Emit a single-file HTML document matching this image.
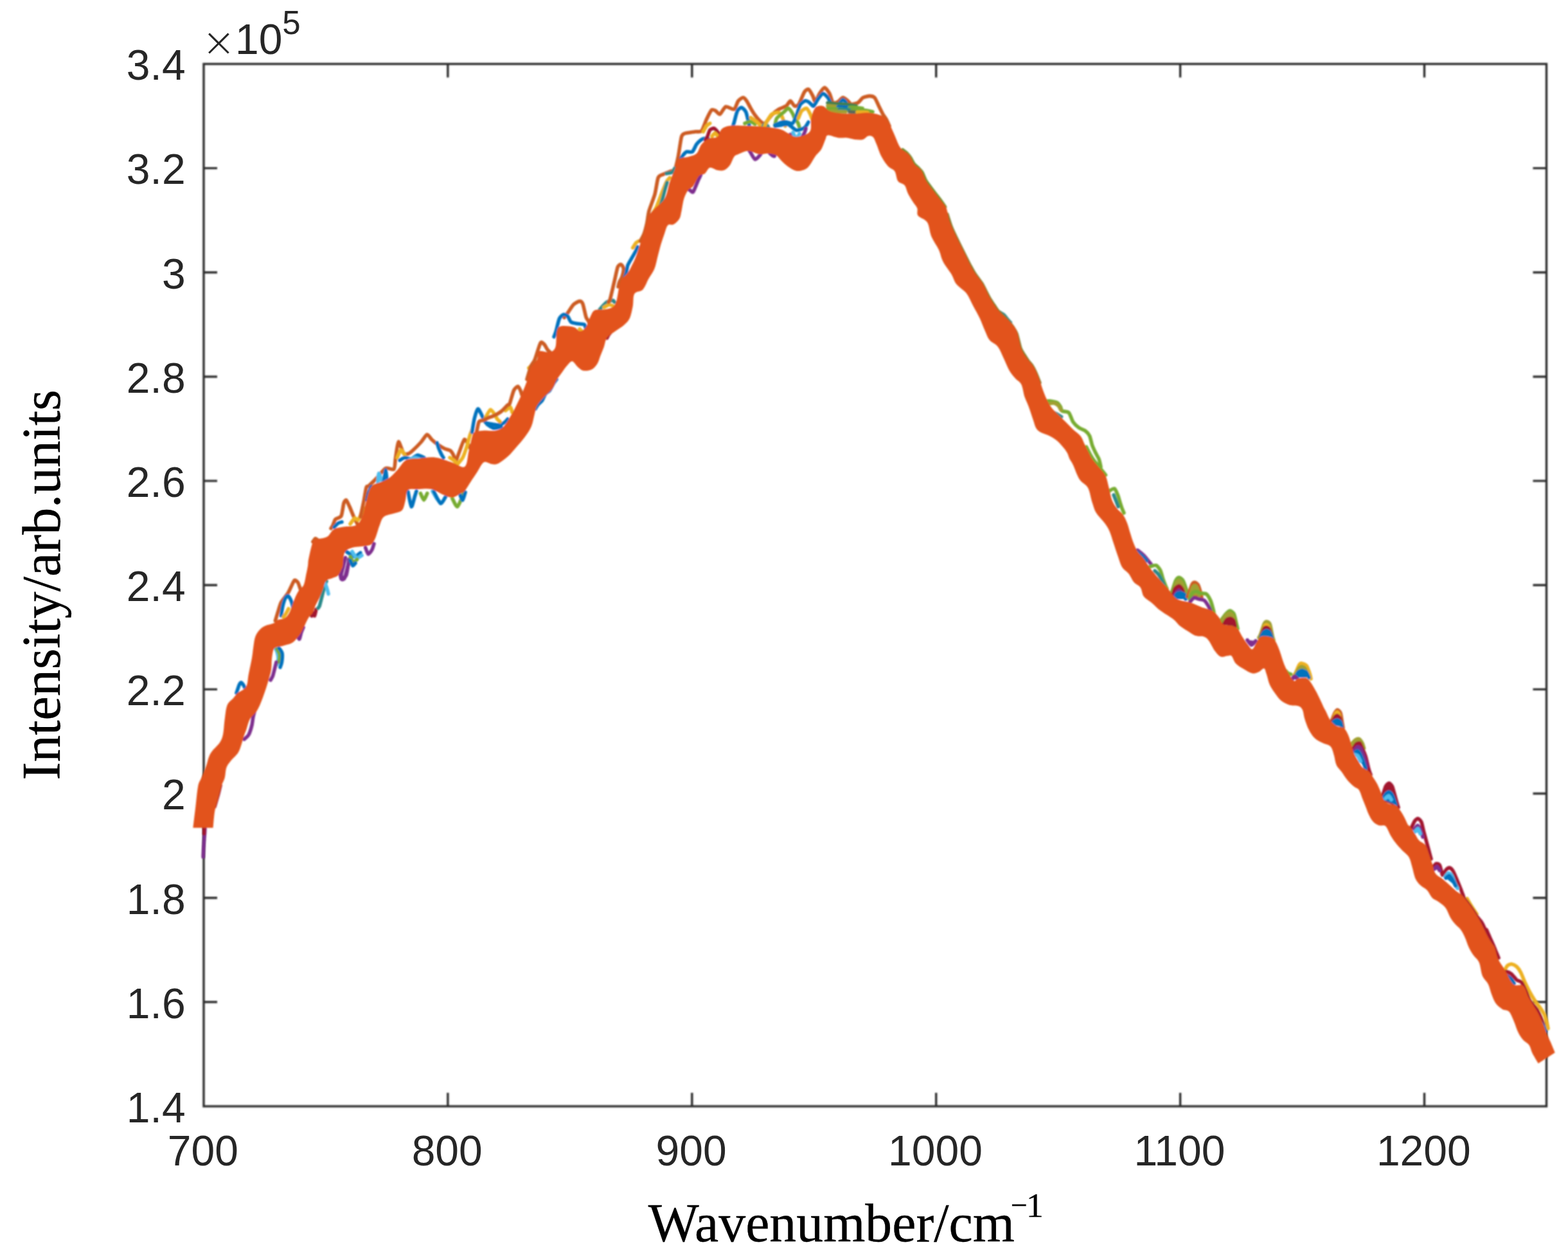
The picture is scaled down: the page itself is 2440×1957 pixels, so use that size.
<!DOCTYPE html>
<html lang="en">
<head>
<meta charset="utf-8">
<title>Raman spectra: Intensity vs Wavenumber</title>
<style>
html,body{margin:0;padding:0;background:#fff;}
body{width:2440px;height:1957px;overflow:hidden;}
svg{display:block;}
.tick{font-family:"Liberation Sans",sans-serif;font-size:66px;fill:#262626;}
.lab{font-family:"Liberation Serif",serif;font-size:83.8px;fill:#000;stroke:#000;stroke-width:0.35px;}
</style>
</head>
<body>
<svg width="2440" height="1957" viewBox="0 0 2440 1957">
<defs>
<filter id="soft" filterUnits="userSpaceOnUse" x="0" y="0" width="2440" height="1957"><feGaussianBlur stdDeviation="0.9"/></filter>
<filter id="softax" filterUnits="userSpaceOnUse" x="0" y="0" width="2440" height="1957"><feGaussianBlur stdDeviation="0.8"/></filter>
</defs>
<rect width="2440" height="1957" fill="#fff"/>

<g stroke="#2e2e2e" stroke-width="3.4" fill="none" filter="url(#softax)">
<rect x="317.0" y="99.5" width="2089.5" height="1621.5"/>
<path d="M696.9,1721.0 v-21 M696.9,99.5 v21"/>
<path d="M1076.8,1721.0 v-21 M1076.8,99.5 v21"/>
<path d="M1456.7,1721.0 v-21 M1456.7,99.5 v21"/>
<path d="M1836.6,1721.0 v-21 M1836.6,99.5 v21"/>
<path d="M2216.5,1721.0 v-21 M2216.5,99.5 v21"/>
<path d="M317.0,1558.8 h21 M2406.5,1558.8 h-21"/>
<path d="M317.0,1396.7 h21 M2406.5,1396.7 h-21"/>
<path d="M317.0,1234.5 h21 M2406.5,1234.5 h-21"/>
<path d="M317.0,1072.4 h21 M2406.5,1072.4 h-21"/>
<path d="M317.0,910.2 h21 M2406.5,910.2 h-21"/>
<path d="M317.0,748.1 h21 M2406.5,748.1 h-21"/>
<path d="M317.0,586.0 h21 M2406.5,586.0 h-21"/>
<path d="M317.0,423.8 h21 M2406.5,423.8 h-21"/>
<path d="M317.0,261.6 h21 M2406.5,261.6 h-21"/>
</g>
<g filter="url(#soft)">
<g fill="none" stroke-linejoin="round" stroke-linecap="round" stroke-width="5.6">
<path d="M319,1286 C319,1287 318.7,1292.8 318.6,1295 C318.5,1297.2 318,1302.1 317.8,1305 C317.6,1307.9 317,1316.7 316.8,1320 C316.6,1323.3 316.3,1331.5 316.2,1333" stroke="#7e2f8e"/>
<path d="M317.5,1286 C317.5,1286.7 317.8,1290.7 317.8,1292 C317.8,1293.3 317.6,1296.4 317.6,1297" stroke="#a2142f"/>
<path d="M334,1255 C334.4,1253.6 336.7,1245.7 337.5,1243 C338.3,1240.3 339.9,1234.5 340.5,1232 C341.1,1229.5 342.7,1223.2 343,1222" stroke="#a2142f"/>
<path d="M380,1150 C380.8,1149.2 385.6,1145.6 387,1143 C388.4,1140.4 391.2,1131.3 392,1128 C392.8,1124.7 393.3,1118.3 394,1115 C394.7,1111.7 397.5,1101.8 398,1100" stroke="#7e2f8e"/>
<path d="M368,1078 C368.5,1076.6 371.2,1067.9 372,1066 C372.8,1064.1 374.4,1061.8 375.2,1061.8 C376,1061.8 378.2,1064.8 379,1066 C379.8,1067.2 381.6,1071.3 382,1072" stroke="#0072bd"/>
<path d="M428.4,965.7 C428.9,964.2 431.2,956 432.3,952.7 C433.4,949.4 435.7,940.6 437.5,937.1 C439.3,933.6 446.1,925.8 447.9,922.9 C449.7,920 451.9,914.9 453.1,912.5 C454.3,910.1 457.1,903.5 458.3,902.7 C459.5,901.9 462.4,904.4 463.5,906 C464.6,907.6 466.6,914.2 467.4,916.4 C468.2,918.6 469.7,924 470,925" stroke="#cc5b22"/>
<path d="M437.5,957.9 C437.8,956.1 439.3,945.5 440.1,942.3 C440.9,939.1 443.1,932.4 444,930.6 C444.9,928.8 447,926.6 447.9,926.8 C448.8,927 451,930.5 451.8,931.9 C452.6,933.3 453.9,936.8 454.4,938.4 C454.9,940 455.8,945.1 456,946" stroke="#0072bd"/>
<path d="M441,960 C441.5,959.3 444.4,955.5 445.3,954 C446.2,952.5 448.6,947.8 449,947" stroke="#edb120"/>
<path d="M428,1008 C428.4,1008.7 430.4,1012.1 431,1014 C431.6,1015.9 433,1021.7 433,1024 C433,1026.3 431.2,1032.8 431,1034" stroke="#4dbeee"/>
<path d="M431,1010 C431.5,1010.9 434.6,1015.7 435,1018 C435.4,1020.3 434.1,1028.6 434,1030" stroke="#77ac30"/>
<path d="M434,1008 C434.6,1008.9 438.5,1013.4 439,1016 C439.5,1018.6 438.9,1027.4 438.5,1030 C438.1,1032.6 436.3,1037.1 436,1038" stroke="#0072bd"/>
<path d="M430,1030 C429.7,1031.2 428.1,1037.5 427.5,1040 C426.9,1042.5 425.3,1049.3 424.5,1051.4 C423.7,1053.5 421.4,1057.2 421,1058" stroke="#7e2f8e"/>
<path d="M463,990 C463.4,990.5 465.3,994.7 466,994 C466.7,993.3 468,986.1 468.7,984 C469.4,981.9 471.6,976.9 472,976" stroke="#7e2f8e"/>
<path d="M485,958 C485.2,957.4 486.5,953 487,953 C487.5,953 488.9,958.6 489.5,958 C490.1,957.4 491.7,949.2 492,948" stroke="#a2142f"/>
<path d="M495,946 C495.3,945.6 496.6,944.4 497.3,942.3 C498,940.2 500.1,931.5 501,928 C501.9,924.5 504.2,915.3 505,912.5 C505.8,909.7 507.6,905 508,904" stroke="#2a8a8a"/>
<path d="M526,890 C526.3,889.7 527.8,886.5 528.4,887.8 C529,889.1 530.1,899.4 531,900.8 C531.9,902.2 535,901.9 536.2,899.5 C537.4,897.1 540.5,883.2 541.4,880 C542.3,876.8 543.7,872.9 544,872" stroke="#7e2f8e"/>
<path d="M486.9,842.9 C487.4,842.3 489.7,837.9 490.8,837.7 C491.9,837.5 495.4,841.1 496,841.6" stroke="#cc5b22"/>
<path d="M515,822 C515.4,821.4 517.3,818.6 518.1,816.9 C518.9,815.2 520.4,809.5 521.9,807.8 C523.4,806.1 529.5,805.5 531,802.6 C532.5,799.7 534,786 534.9,783.1 C535.8,780.2 537.7,777.3 538.8,777.9 C539.9,778.5 542.6,785.3 544,788.3 C545.4,791.3 549.1,800.9 550.5,803.9 C551.9,806.9 554.8,812.7 555.7,814.3 C556.6,815.9 557.7,817.6 558,818" stroke="#cc5b22"/>
<path d="M545,815 C545.8,814 550.6,806.7 552,806 C553.4,805.3 555.8,809.7 557,809 C558.2,808.3 561,802.2 562,800 C563,797.8 565.5,791.2 566,790" stroke="#edb120"/>
<path d="M520,820 C520.7,819.3 524.6,814.9 526,814 C527.4,813.1 531.3,812.2 532,812" stroke="#0072bd"/>
<path d="M560.9,803.9 C561.5,801.1 564.9,785.3 566,780 C567.1,774.7 569.1,761.2 570,758.4 C570.9,755.6 572.1,757.4 573.9,755.8 C575.6,754.2 582,748.2 585,745 C588,741.8 596.6,730.4 599.9,728.6 C603.2,726.8 611.1,731.7 612.9,729.9 C614.7,728.1 614.7,718 615.5,713 C616.3,708 618.5,688.2 620,687.3 C621.5,686.4 626.2,702.8 628,705 C629.8,707.2 633.4,706.5 635,706 C636.6,705.5 639.7,703.1 642,701 C644.3,698.9 652.4,690.9 655,688 C657.6,685.1 662.6,676.5 664.6,676 C666.6,675.5 670,682.1 672,684 C674,685.9 679.7,690.4 682,692 C684.3,693.6 689.8,697 692,698 C694.2,699 699.2,699.8 700.8,701 C702.4,702.2 704.6,706 705.6,708 C706.6,710 708,718.4 709,718 C710,717.6 712.4,709 714,705 C715.6,701 720.7,685.8 722.3,684 C723.9,682.2 726.8,688.1 728,690 C729.2,691.9 732.4,698.8 733,700" stroke="#cc5b22"/>
<path d="M588,752 C588.2,750.2 588.7,736.7 589.5,736.4 C590.3,736.1 594.1,747.9 594.7,749.4" stroke="#4dbeee"/>
<path d="M597,752 C597.3,749.6 599.3,731.5 599.9,731.2 C600.5,730.9 602.2,747.3 602.5,749.4" stroke="#0072bd"/>
<path d="M571.3,777.9 C571.6,776.5 573.2,768.4 574,766 C574.8,763.6 577.4,758.1 577.8,757.1" stroke="#0072bd"/>
<path d="M537.5,867.5 C537.1,869.2 534.8,878.8 534,882 C533.2,885.2 531,892.7 531,894.8 C531,896.9 532.7,900 533.6,900 C534.5,900 537.9,896.9 538.8,894.8 C539.7,892.7 540.9,884.7 541.4,881.8 C541.9,878.9 542.8,871.4 543,870" stroke="#7e2f8e"/>
<path d="M538.8,858 C539.5,858.5 543.5,861.1 545,862 C546.5,862.9 550.1,866.2 552,866 C553.9,865.8 559.9,860.7 560.9,860" stroke="#0072bd"/>
<path d="M548,858 C548.8,859.2 553.2,867.3 555,868 C556.8,868.7 562.1,864.5 563,864" stroke="#4dbeee"/>
<path d="M545.3,866 C545.8,867 548.8,874.5 550,875 C551.2,875.5 555,870.6 555.7,870" stroke="#77ac30"/>
<path d="M545,872 C545.5,872.9 548.1,879.5 549,880 C549.9,880.5 552.5,876.5 553,876" stroke="#0072bd"/>
<path d="M568.7,852 C569.2,853.2 571.8,861.6 573,862 C574.2,862.4 578,856.9 579,855 C580,853.1 581.6,847 582,846" stroke="#7e2f8e"/>
<path d="M634.9,764.9 C635.5,767.6 638.9,787.4 640.1,788.3 C641.3,789.2 644.4,775.5 645.3,772.7 C646.2,769.9 647.7,765 648,764" stroke="#0072bd"/>
<path d="M654.4,767.5 C655,768.7 658.4,777.9 659.6,777.9 C660.8,777.9 664.2,768.7 664.8,767.5" stroke="#77ac30"/>
<path d="M673,764 C673.8,765.4 678.5,773.9 680,776 C681.5,778.1 685.3,781.3 686,782" stroke="#4dbeee"/>
<path d="M675.2,764.9 C676.4,767 683.5,782.2 685.6,783.1 C687.7,784 692.2,774.5 693.4,772.7 C694.6,770.9 695.7,768.5 696,768" stroke="#0072bd"/>
<path d="M703.8,775.3 C704.7,776.8 709.8,788.6 711.6,788.3 C713.4,788 718.2,775.5 719.4,772.7 C720.6,769.9 721.7,765 722,764" stroke="#77ac30"/>
<path d="M716,770 C716.5,770.9 719.1,778.5 720,778 C720.9,777.5 723.5,767.4 724,766" stroke="#0072bd"/>
<path d="M506,908 C506.4,908.9 508.4,914.1 509,916 C509.6,917.9 510.8,923.1 511,924" stroke="#4dbeee"/>
<path d="M618,712 C618.7,710.6 622.6,700.5 624,700 C625.4,699.5 629.3,707.1 630,708" stroke="#edb120"/>
<path d="M622,716 C622.9,715.5 627.9,712.2 630,712 C632.1,711.8 637.7,714.5 640,714 C642.3,713.5 647.7,708.2 650,708 C652.3,707.8 658.8,711.5 660,712" stroke="#0072bd"/>
<path d="M636,716 C637.2,715.5 643.7,712 646,712 C648.3,712 654.8,715.5 656,716" stroke="#4dbeee"/>
<path d="M700,712 C700.7,712.5 704.6,714.8 706,716 C707.4,717.2 711.3,721.3 712,722" stroke="#edb120"/>
<path d="M680,689 C680.4,690 682.2,696 683,698 C683.8,700 685.7,704.4 686.5,706 C687.3,707.6 689.6,711.3 690,712" stroke="#0072bd"/>
<path d="M712,722 C712.9,720.8 718.4,715 720,712 C721.6,709 724.7,700 726,696 C727.3,692 730,681.3 731,678 C732,674.7 734.5,669.2 735,668" stroke="#edb120"/>
<path d="M734.5,672.5 C735,669.9 737.3,654.6 738.4,650.4 C739.5,646.2 742.4,636.9 743.6,636.1 C744.8,635.3 747.4,641.5 748.8,643.9 C750.2,646.3 753.5,655.1 755.3,656.9 C757.1,658.7 762.1,659 764.4,659.5 C766.7,660 772.7,661.2 775,661 C777.3,660.8 782.2,659 784,658 C785.8,657 789.3,652.7 790,652" stroke="#0072bd"/>
<path d="M758,660 C759.2,660.7 765.4,665.5 768,666 C770.6,666.5 778.6,664.2 780,664" stroke="#0072bd"/>
<path d="M755.3,650.4 C756.2,648.9 761.3,637.9 763.1,637.4 C764.9,636.9 769.7,644.8 770.9,646.5 C772.1,648.2 772.7,650.6 773.5,651.7 C774.3,652.8 777.5,655.5 778,656" stroke="#edb120"/>
<path d="M786.5,638.7 C787.4,638.1 793.1,633.2 794.3,633.5 C795.5,633.8 796.6,640.4 796.9,641.3" stroke="#edb120"/>
<path d="M733,700 C733.6,698.8 736.6,695 738,690 C739.4,685 743.4,661.2 745,657 C746.6,652.8 750.2,654.8 752,654 C753.8,653.2 757.9,650.9 760,650 C762.1,649.1 767.7,647.2 770,646 C772.3,644.8 777.7,641.9 780,640 C782.3,638.1 788.5,631.4 790,630 C791.5,628.6 791.9,630.9 793,628.3 C794.1,625.7 798,610.7 799.5,607.5 C801,604.3 804.8,601 806,601 C807.2,601 809.2,606 809.9,607.5 C810.6,609 811.8,613.2 812,614" stroke="#cc5b22"/>
<path d="M822.9,572.5 C823.5,572 826.8,569.1 828,568 C829.2,566.9 832.6,563.9 833.2,563.4" stroke="#edb120"/>
<path d="M820,590 C820.7,587.7 824.6,573.5 826,570 C827.4,566.5 830.2,564.2 832,560 C833.8,555.8 839.3,536.5 841,533.6 C842.7,530.7 845.3,534.2 846.6,535.4 C847.9,536.6 850.9,542.5 852,544 C853.1,545.5 855.5,547.5 856,548" stroke="#cc5b22"/>
<path d="M833,636 C833.5,635.3 835.9,631.1 837.1,629.6 C838.3,628.1 842.2,625.1 843.6,623.1 C845,621.1 847.4,614.5 848.8,612.7 C850.2,610.9 853.8,609.5 855.3,607.5 C856.8,605.5 860.6,597.8 861.8,595.8 C863,593.8 865.5,590.7 866,590" stroke="#0072bd"/>
<path d="M878,494 C878.6,493.2 881.7,489.2 883.4,486.8 C885.1,484.4 890.4,475.9 892.5,473.8 C894.6,471.7 899.9,468.8 901.6,468.6 C903.3,468.4 905.6,469.6 906.8,472.5 C908,475.4 910.9,490 911.9,493.2 C912.9,496.4 915.1,498.3 915.8,499.7 C916.5,501.1 917.7,504.4 918,505" stroke="#cc5b22"/>
<path d="M862,524 C862.4,523 864.2,518.6 865.2,515.3 C866.2,512 869,498.8 870.4,495.8 C871.8,492.8 875.4,489.9 876.9,489.4 C878.4,488.9 882,490.5 883.4,491.9 C884.8,493.3 886.8,499.6 888.6,501 C890.4,502.4 896.6,503.1 899,503.6 C901.4,504.1 907.9,503.8 909.4,504.9 C910.9,506 911.5,511.2 911.9,512.7 C912.3,514.2 912.9,517.4 913,518" stroke="#0072bd"/>
<path d="M902,512 C902.4,512.4 904.7,514.4 905.5,515.3 C906.3,516.2 908.6,519.5 909,520" stroke="#edb120"/>
<path d="M933,482 C933.4,481.5 935.3,479.1 936.6,477.7 C937.9,476.3 942.4,471.1 944.4,469.9 C946.4,468.7 952.1,467.3 953.5,467.3 C954.9,467.3 955.8,469.6 956.1,469.9" stroke="#2a8a8a"/>
<path d="M940,478 C940.9,477.5 946.4,474.2 948,474 C949.6,473.8 953.3,475.8 954,476" stroke="#edb120"/>
<path d="M947,470 C947.3,469.4 948.5,468.5 949.6,464.7 C950.7,460.9 954.7,443.2 956.1,437.4 C957.5,431.6 960.1,418.3 961.3,415.3 C962.5,412.3 965.4,411.1 966.5,411.4 C967.6,411.7 970.2,415.6 970.4,417.9 C970.6,420.2 968.6,428.5 967.8,430.9 C967,433.3 964.6,436.9 963.9,438.7 C963.2,440.5 962.2,445.1 962,446" stroke="#cc5b22"/>
<path d="M972,432 C972.3,431.3 973.7,428 974.3,425.7 C974.9,423.4 975.8,415.6 976.9,412.7 C978,409.8 982,403.4 983.4,401 C984.8,398.6 987.6,393.9 988.6,391.9 C989.6,389.9 991.6,384.9 992,384" stroke="#0072bd"/>
<path d="M984.7,385.5 C985.3,384.6 988.8,378.9 989.9,377.7 C991,376.5 993.3,375.4 993.8,375.1" stroke="#edb120"/>
<path d="M996.4,375.1 C997.1,373.8 1000.9,367.3 1002.1,364 C1003.3,360.7 1005.9,350.7 1006.8,346.5 C1007.7,342.3 1008.5,333.5 1009.9,328.3 C1011.3,323.1 1017.3,308.4 1019,302.3 C1020.7,296.2 1022.7,280 1024.2,276.4 C1025.7,272.8 1029.8,272.3 1031.9,271.2 C1034,270.1 1039.9,267.9 1042,267 C1044.1,266.1 1048.5,266.1 1050.1,263.4 C1051.7,260.7 1054.1,249.8 1055.3,243.9 C1056.5,238 1059.3,216.9 1060.5,212.7 C1061.7,208.5 1063.3,208.4 1065.7,207.5 C1068.1,206.6 1078.3,205.4 1081.3,204.9 C1084.3,204.4 1089.6,205.9 1091.7,203.6 C1093.8,201.3 1097.7,189.3 1099.5,185.5 C1101.3,181.7 1105.6,172.7 1107.3,171.2 C1109,169.7 1112.3,171.7 1113.8,172.5 C1115.3,173.3 1118.5,178.5 1120.3,177.7 C1122.1,176.9 1126.8,166.9 1129.4,166 C1132,165.1 1140,171 1142.3,169.9 C1144.6,168.8 1147.1,159 1148.8,156.9 C1150.5,154.8 1155.1,151.7 1156.6,151.7 C1158.1,151.7 1160.4,154.9 1161.8,156.9 C1163.2,158.9 1166.8,166 1168.3,168.6 C1169.8,171.2 1173.1,176.7 1174.8,179 C1176.5,181.3 1180.8,186.6 1182.6,188.1 C1184.4,189.6 1188.3,193 1190.4,191.9 C1192.5,190.8 1198.3,181.6 1200.8,179 C1203.3,176.4 1209.4,171.6 1212,170 C1214.6,168.4 1221.3,166.4 1223.4,164.9 C1225.5,163.4 1228.4,157.1 1229.9,157.1 C1231.4,157.1 1234.9,164.3 1236.4,164.9 C1237.9,165.5 1241.1,164.9 1242.9,162.3 C1244.7,159.7 1250.1,145.6 1251.9,142.9 C1253.7,140.2 1256.9,138.2 1258.4,139 C1259.9,139.8 1263.7,147.1 1264.9,149.4 C1266.1,151.7 1267.6,158.9 1268.8,158.4 C1270,157.9 1273.6,148.1 1275.3,145.5 C1277,142.9 1281.3,136.4 1283.1,136.4 C1284.9,136.4 1289.4,142.8 1290.9,145.5 C1292.4,148.2 1294.6,158.2 1296.1,159.7 C1297.6,161.2 1302.1,159.3 1303.9,158.4 C1305.7,157.5 1309.9,152.1 1311.7,151.9 C1313.5,151.7 1318,155.9 1319.5,157.1 C1321,158.3 1322.9,162 1324.7,162.3 C1326.5,162.6 1333,160.9 1335.1,159.7 C1337.2,158.5 1340.8,153.1 1342.9,151.9 C1345,150.7 1351.1,149.4 1353.2,149.4 C1355.3,149.4 1359.3,150.1 1361,151.9 C1362.7,153.7 1366,161.9 1367.5,164.9 C1369,167.9 1372.6,175.5 1374,177.9 C1375.4,180.3 1378,183.6 1379.2,185.7 C1380.4,187.8 1383.4,194.8 1384,196" stroke="#cc5b22"/>
<path d="M944.4,525.7 C944.7,525.2 946.4,521.9 947,521 C947.6,520.1 949.3,518.3 949.6,517.9" stroke="#a2142f"/>
<path d="M1017,330 C1017.5,329 1020.1,325.3 1021.6,321.8 C1023.1,318.3 1028.2,304.5 1030,300 C1031.8,295.5 1035.7,285.7 1037.1,282.9 C1038.5,280.1 1041.7,277.2 1042.3,276.4" stroke="#edb120"/>
<path d="M1027,322 C1027.3,321.2 1028.5,318.4 1029.4,315.3 C1030.3,312.2 1033.5,299.5 1034.5,295.8 C1035.5,292.1 1037.6,285.4 1038,284" stroke="#2a8a8a"/>
<path d="M1037,270 C1038,269.8 1044.5,268.9 1046,268 C1047.5,267.1 1049.5,262.7 1050,262" stroke="#2a8a8a"/>
<path d="M1060,246 C1060.4,245.5 1062.1,242.5 1063.1,241.3 C1064.1,240.1 1066.6,236.7 1068.3,236.1 C1070,235.5 1075.6,237.5 1077.4,236.1 C1079.2,234.7 1082.4,226.5 1083.9,224.4 C1085.4,222.3 1088.9,219 1090.4,217.9 C1091.9,216.8 1095.5,215.5 1096.9,215.3 C1098.3,215.1 1101.4,215.9 1102,216" stroke="#0072bd"/>
<path d="M1094.3,204.9 C1094.9,203.8 1098.3,197.3 1099.5,195.8 C1100.7,194.3 1104.1,192.4 1104.7,191.9" stroke="#edb120"/>
<path d="M1098,218 C1098.3,217.4 1100,214.5 1100.8,212.7 C1101.6,210.9 1103.5,203.8 1104.7,202.3 C1105.9,200.8 1109.8,199.4 1111.2,199.7 C1112.6,200 1115.3,203.5 1116.4,204.9 C1117.5,206.3 1119.6,210.1 1120.3,211.4 C1121,212.7 1121.8,215.5 1122,216" stroke="#a2142f"/>
<path d="M1108,212 C1108.5,211.4 1111.5,207 1112.5,207 C1113.5,207 1116.5,211.4 1117,212" stroke="#edb120"/>
<path d="M1140,198 C1140.3,197.1 1141.4,193.6 1142.3,190.6 C1143.2,187.6 1146.1,175.2 1147.5,172.5 C1148.9,169.8 1152.5,167.1 1154,167.3 C1155.5,167.5 1159.3,171.4 1160.5,173.8 C1161.7,176.2 1163.8,185.5 1164.4,188.1 C1165,190.7 1165.8,195.1 1166,196" stroke="#0072bd"/>
<path d="M1159,192 C1159.9,191.7 1165.1,188.9 1167,189 C1168.9,189.1 1174.1,192.5 1175,193" stroke="#77ac30"/>
<path d="M1168.3,182.9 C1169.4,183.7 1175.7,188 1177.4,189.4 C1179.1,190.8 1181.6,193.5 1182.6,194.5 C1183.6,195.5 1185.6,197.6 1186,198" stroke="#edb120"/>
<path d="M1187.8,196 C1188.2,195.5 1190.1,191.8 1191,192 C1191.9,192.2 1195.1,197.3 1195.6,198" stroke="#2a8a8a"/>
<path d="M1190,196 C1190.3,195.2 1191.7,191.5 1193,189.4 C1194.3,187.3 1198.7,179.4 1200.8,177.7 C1202.9,176 1209.4,174.8 1211.2,175.1 C1213,175.4 1215.4,178.8 1216.4,180.3 C1217.4,181.8 1218.8,186.5 1219.5,188.3 C1220.2,190.1 1221.7,195.1 1222,196" stroke="#edb120"/>
<path d="M1206,196 C1206.3,194.6 1206.9,186.8 1208.6,184.2 C1210.3,181.6 1218.2,175.6 1220.3,173.8 C1222.4,172 1225.3,168.3 1226.8,168.6 C1228.3,168.9 1232,174.4 1233.2,176.4 C1234.4,178.4 1236.1,183.8 1237.1,185.5 C1238.1,187.2 1240.8,189.4 1241.6,190.9 C1242.4,192.4 1243.7,197.2 1244,198" stroke="#77ac30"/>
<path d="M1206,194.5 C1207.7,193.9 1217.1,189.7 1220.3,189.4 C1223.5,189.1 1230.9,193.1 1233.2,191.9 C1235.5,190.7 1238.3,182.3 1239.7,179 C1241.1,175.7 1243.4,166 1244.9,163.4 C1246.4,160.8 1251.2,157.5 1252.7,156.9 C1254.2,156.3 1256.9,157.8 1258,158.4 C1259.1,159 1261.3,161.5 1262.3,162.3 C1263.3,163.1 1265,165.8 1266.2,164.9 C1267.4,164 1271,156.8 1272.7,154.5 C1274.4,152.2 1278.7,145.8 1280.5,145.5 C1282.3,145.2 1286.8,149.9 1288.3,151.9 C1289.8,153.9 1292.6,160.2 1293.5,162.3 C1294.4,164.4 1295.7,169.1 1296,170" stroke="#0072bd"/>
<path d="M1206.5,196.1 C1208.8,195.8 1222.2,192.7 1226,193.5 C1229.8,194.3 1236,202 1239,202.6 C1242,203.2 1249.7,200.2 1251.9,198.7 C1254.1,197.2 1257.3,191 1258,190" stroke="#0072bd"/>
<path d="M1242.3,184.2 C1242.9,182.8 1246,174.3 1247.5,172.5 C1249,170.7 1253.7,168 1255.3,168.6 C1256.9,169.2 1260,175.9 1261,177.9 C1262,179.9 1263.7,185.1 1264,186" stroke="#edb120"/>
<path d="M1229.9,209.1 C1230.4,209.7 1232.9,212.5 1234,214 C1235.1,215.5 1237.7,221.8 1239,222.1 C1240.3,222.4 1244,218.7 1245.5,216.9 C1247,215.1 1250.9,208.5 1251.9,206.5 C1252.9,204.5 1253.8,200.8 1254,200" stroke="#7e2f8e"/>
<path d="M1234,206 C1234.6,207.2 1237.8,215.8 1239,216 C1240.2,216.2 1243.4,208.9 1244,208" stroke="#4dbeee"/>
<path d="M1070,294 C1070.4,294.2 1072.5,295.3 1073.5,295.8 C1074.5,296.3 1077.2,300.2 1078.7,298.4 C1080.2,296.6 1085.3,283 1086.5,280.3 C1087.7,277.6 1088.6,276.3 1089.1,275.1 C1089.6,273.9 1090.8,270.6 1091,270" stroke="#7e2f8e"/>
<path d="M1162,230 C1162.4,230.4 1164.2,231.4 1165.7,233.5 C1167.2,235.6 1172.8,246.9 1174.8,247.8 C1176.8,248.7 1181.3,242.7 1182.6,241.3 C1183.9,239.9 1185.6,236.6 1186,236" stroke="#7e2f8e"/>
<path d="M1196,236 C1196.3,236.3 1197.3,237.9 1198.2,238.7 C1199.1,239.5 1202.3,242.6 1203.4,242.6 C1204.5,242.6 1206.5,239.5 1207.3,238.7 C1208.1,237.9 1209.7,236.3 1210,236" stroke="#7e2f8e"/>
<path d="M1200,235 C1200.3,235.6 1202.4,239.1 1203,240 C1203.6,240.9 1204.8,242.7 1205,243" stroke="#7e2f8e"/>
<path d="M1307,160 C1307.5,159.4 1310.6,155 1311.7,155 C1312.8,155 1316.5,158.7 1316.5,160 C1316.5,161.3 1313.1,166 1312,166 C1310.9,166 1307.6,160.7 1307,160" stroke="#0072bd"/>
<path d="M1288,160 C1289.4,160.2 1297.2,161.3 1300,161.5 C1302.8,161.7 1309.4,161.8 1312,162 C1314.6,162.2 1319.7,162.7 1322,163 C1324.3,163.3 1330.8,164.3 1332,164.5" stroke="#3f7f4f"/>
<path d="M1288,164.5 C1289.4,164.6 1298.1,165.3 1300,165.5 C1301.9,165.7 1303.5,165.9 1304,166" stroke="#a0a030"/>
<path d="M1304,166 C1304.9,166.1 1309.9,166.4 1312,166.5 C1314.1,166.6 1320.8,166.9 1322,167" stroke="#0072bd"/>
<path d="M1322,167 C1323.4,167.1 1331.7,167.3 1334,167.5 C1336.3,167.7 1341.1,168.4 1342,168.5" stroke="#77ac30"/>
<path d="M1288,169 C1289.4,169.1 1297.4,169.4 1300,169.5 C1302.6,169.6 1308.8,169.9 1310,170" stroke="#77ac30"/>
<path d="M1306,170 C1307.4,170.1 1315.4,170.4 1318,170.5 C1320.6,170.6 1326.8,170.9 1328,171" stroke="#2a8a8a"/>
<path d="M1326,171 C1327.4,171 1335.3,170.9 1338,171 C1340.7,171.1 1346.7,171.7 1349,172 C1351.3,172.3 1357,173.8 1358,174" stroke="#77ac30"/>
<path d="M1288,173 C1289.6,173.1 1298.7,173.4 1302,173.5 C1305.3,173.6 1314.4,173.9 1316,174" stroke="#a0a030"/>
<path d="M1322,174 C1322.9,174.1 1329.1,174.4 1330,174.5" stroke="#5a6a5a"/>
<path d="M1334,174.5 C1335.2,174.5 1342.1,174.4 1344,174.5 C1345.9,174.6 1349.3,174.9 1350,175" stroke="#edb120"/>
<path d="M1556,486 C1556.7,486.5 1560.9,488.7 1562.3,490 C1563.7,491.3 1566.8,495.6 1568,497 C1569.2,498.4 1571.8,501.2 1572.3,501.7" stroke="#2a8a8a"/>
<path d="M1628,624 C1628.6,624 1631.4,623.5 1633.4,623.8 C1635.4,624.1 1643.1,625.3 1645.1,626.4 C1647.1,627.5 1649.4,631.4 1650.3,632.9 C1651.2,634.4 1651.4,638.4 1652.9,639.4 C1654.4,640.4 1661.2,639.9 1663.2,641.9 C1665.2,643.9 1667.9,653.5 1669.7,656.2 C1671.5,658.9 1676.5,663.6 1678.8,665.3 C1681.1,667 1687.2,669 1689.2,670.5 C1691.2,672 1694.5,675.7 1695.7,678.3 C1696.9,680.9 1698.5,689.6 1699.6,692.6 C1700.7,695.6 1703.6,701.8 1704.8,704.3 C1706,706.8 1709,711.5 1710,714 C1711,716.5 1712.7,724.6 1713,726" stroke="#77ac30"/>
<path d="M1632,628 C1632.9,627.9 1638.2,626.6 1640,627 C1641.8,627.4 1645.7,629.7 1647,631 C1648.3,632.3 1650.5,637.2 1651,638" stroke="#a0a030"/>
<path d="M1640,642 C1640.7,642.4 1644.6,644.3 1646,645 C1647.4,645.7 1650.9,648 1651.6,648.4" stroke="#2a8a8a"/>
<path d="M1724,766 C1724.5,765.6 1726.7,763.4 1727.9,762.7 C1729.1,762 1733,759.2 1734.4,760.1 C1735.8,761 1738.5,767.8 1739.6,770.5 C1740.7,773.2 1742.7,781.1 1743.5,783.5 C1744.3,785.9 1745.5,789.6 1746.1,791.3 C1746.7,793 1748.7,797.2 1749,798" stroke="#77ac30"/>
<path d="M1733,770 C1733.5,771.2 1736.2,777.9 1737,780 C1737.8,782.1 1739.7,787.1 1740,788" stroke="#2a8a8a"/>
<path d="M1770,856 C1770.2,856.2 1770.9,856.6 1772.1,857.5 C1773.3,858.4 1778.2,862.3 1779.9,864 C1781.6,865.7 1785,870.1 1786.4,871.8 C1787.8,873.5 1791,877.5 1791.6,878.3" stroke="#7e2f8e"/>
<path d="M1768,858 C1768.9,858.7 1774.1,862.4 1776,864 C1777.9,865.6 1783.1,871.1 1784,872" stroke="#0072bd"/>
<path d="M1789,882 C1789.3,881.9 1790.4,881.2 1791.6,880.9 C1792.8,880.6 1797.7,878.8 1799.4,879.6 C1801.1,880.4 1804.6,885 1805.8,887.4 C1807,889.8 1808.8,897.7 1809.7,900.4 C1810.6,903.1 1812.9,909 1813.6,910.8 C1814.3,912.6 1815.7,915.4 1816,916" stroke="#77ac30"/>
<path d="M1797,888 C1797.7,888.7 1801.7,892.2 1803,894 C1804.3,895.8 1807.1,901.1 1808,903 C1808.9,904.9 1810.7,909.2 1811,910" stroke="#2a8a8a"/>
<path d="M1821,924 C1821.4,923.4 1823.2,921.4 1824.2,919 C1825.2,916.6 1828.2,905.8 1829.4,903.4 C1830.6,901 1833.1,898.2 1834.5,898.2 C1835.9,898.2 1839.5,900.7 1841,903.4 C1842.5,906.1 1846.6,918.7 1847.5,921.6 C1848.4,924.5 1848.8,927.3 1849,928" stroke="#77ac30" fill="#77ac30"/>
<path d="M1826,920 C1826.5,918.6 1829,910 1830,908 C1831,906 1833.4,903 1834.5,903 C1835.6,903 1838.4,906 1839.5,908 C1840.6,910 1843.5,918.6 1844,920" stroke="#a0a030" fill="#a0a030"/>
<path d="M1826,924 C1826.2,923.1 1827,917.9 1828,916.4 C1829,914.9 1833.1,911.2 1834.5,911.2 C1835.9,911.2 1838.8,914.9 1839.7,916.4 C1840.6,917.9 1841.7,923.1 1842,924" stroke="#a2142f" fill="#a2142f"/>
<path d="M1828,926 C1828.8,925.1 1833,918 1834.5,918 C1836,918 1840.2,925.1 1841,926" stroke="#7e2f8e" fill="#7e2f8e"/>
<path d="M1828,932 C1828.3,931.1 1830,925.2 1831,924 C1832,922.8 1835.6,921.9 1837,922 C1838.4,922.1 1842.1,923.8 1843,925 C1843.9,926.2 1844.8,931.2 1845,932" stroke="#0072bd" fill="#0072bd"/>
<path d="M1848,928 C1848.2,927.4 1849.2,925.2 1850.1,922.9 C1851,920.6 1854.2,910.6 1855.3,908.6 C1856.4,906.6 1858.1,905.8 1859.2,906 C1860.3,906.2 1863.3,908.1 1864.4,909.9 C1865.5,911.7 1867.6,919.3 1868.3,921.6 C1869,923.9 1869.8,929 1870,930" stroke="#cc5b22" fill="#cc5b22"/>
<path d="M1852,926 C1852.5,924.6 1855.1,915.8 1856,914 C1856.9,912.2 1858.7,910.9 1859.5,911 C1860.3,911.1 1862.2,913.2 1863,915 C1863.8,916.8 1865.7,924.7 1866,926" stroke="#a0a030" fill="#a0a030"/>
<path d="M1851,932 C1851.6,930.8 1854.7,923.4 1856,922 C1857.3,920.6 1860.6,919.9 1862,920 C1863.4,920.1 1866.5,922.4 1868.3,922.9 C1870.1,923.4 1875.6,922.8 1877.4,924.2 C1879.2,925.6 1882.7,931.8 1883.9,934.5 C1885.1,937.2 1887.2,945.3 1887.8,947.5 C1888.4,949.7 1888.9,952.4 1889,953" stroke="#77ac30"/>
<path d="M1852,936 C1852.7,935.3 1856.4,930.5 1858,930 C1859.6,929.5 1864.1,931.5 1866,932 C1867.9,932.5 1872.4,932.8 1874,934 C1875.6,935.2 1878.8,940.1 1880,942 C1881.2,943.9 1883.5,949.1 1884,950" stroke="#7e2f8e"/>
<path d="M1896,968 C1896.4,967.7 1898.2,967.2 1899.5,965.7 C1900.8,964.2 1905.6,957.1 1907.3,955.3 C1909,953.5 1912.3,950.1 1913.8,950.1 C1915.3,950.1 1919.1,952.9 1920.3,955.3 C1921.5,957.7 1923.5,968.3 1924.2,970.9 C1924.9,973.5 1925.8,977.2 1926,978" stroke="#77ac30" fill="#77ac30"/>
<path d="M1903,964 C1903.7,963.1 1907.7,957.2 1909,956 C1910.3,954.8 1912.9,953.8 1914,954 C1915.1,954.2 1917.7,956.4 1918.5,958 C1919.3,959.6 1920.7,966.8 1921,968" stroke="#a0a030" fill="#a0a030"/>
<path d="M1904,972 C1904.6,971.1 1907.7,965.2 1909,964 C1910.3,962.8 1913.7,961.8 1915,962 C1916.3,962.2 1919.2,964.6 1920,966 C1920.8,967.4 1921.8,973.1 1922,974" stroke="#a2142f" fill="#a2142f"/>
<path d="M1959,992 C1959.3,991.4 1960.9,989 1961.8,986.5 C1962.7,984 1965.9,973.2 1967,970.9 C1968.1,968.6 1969.8,967 1970.9,967 C1972,967 1975,968.3 1976.1,970.9 C1977.2,973.5 1979.3,986.2 1980,989.1 C1980.7,992 1981.8,995.2 1982,996" stroke="#a0a030" fill="#a0a030"/>
<path d="M1964,984 C1964.5,982.8 1967.2,975.4 1968,974 C1968.8,972.6 1970.3,971.9 1971,972 C1971.7,972.1 1973.3,973.6 1974,975 C1974.7,976.4 1976.7,983 1977,984" stroke="#edb120" fill="#edb120"/>
<path d="M1963,988 C1963.5,986.8 1966.1,979.4 1967,978 C1967.9,976.6 1970.1,975.9 1971,976 C1971.9,976.1 1974.2,977.6 1975,979 C1975.8,980.4 1977.7,987 1978,988" stroke="#a2142f" fill="#a2142f"/>
<path d="M1962,992 C1962.5,991.1 1965,985.3 1966,984 C1967,982.7 1969.8,981 1971,981 C1972.2,981 1975.1,982.7 1976,984 C1976.9,985.3 1978.7,991.1 1979,992" stroke="#0072bd" fill="#0072bd"/>
<path d="M1941,995.6 C1941.8,996.5 1946,1003.2 1947.5,1003.4 C1949,1003.6 1953.2,997.7 1954,996.9" stroke="#7e2f8e" fill="#7e2f8e"/>
<path d="M2013,1052 C2013.4,1051.3 2015.4,1048.2 2016.4,1046.2 C2017.4,1044.2 2020.5,1036.2 2021.6,1034.5 C2022.7,1032.8 2024.1,1031.7 2025.5,1031.9 C2026.9,1032.1 2031.7,1033.8 2033.2,1035.8 C2034.7,1037.8 2037.6,1046.4 2038.4,1048.8 C2039.2,1051.2 2039.8,1055.2 2040,1056" stroke="#edb120" fill="#edb120"/>
<path d="M2017,1048 C2017.6,1047 2021,1040.3 2022,1039 C2023,1037.7 2025,1036.9 2026,1037 C2027,1037.1 2030,1038.5 2031,1040 C2032,1041.5 2034.5,1048.8 2035,1050" stroke="#a0a030" fill="#a0a030"/>
<path d="M2016,1054 C2016.5,1053.1 2018.8,1047.3 2020,1046 C2021.2,1044.7 2024.5,1043 2026,1043 C2027.5,1043 2031.7,1044.7 2033,1046 C2034.3,1047.3 2036.5,1053.1 2037,1054" stroke="#0072bd" fill="#0072bd"/>
<path d="M2010,1058 C2010.5,1057.3 2013,1052.2 2014,1052 C2015,1051.8 2018.4,1055.5 2019,1056" stroke="#7e2f8e" fill="#7e2f8e"/>
<path d="M2000.8,1043.6 C2001.2,1044 2003.1,1046.4 2004,1047 C2004.9,1047.6 2008.1,1048.6 2008.6,1048.8" stroke="#77ac30" fill="#77ac30"/>
<path d="M2069,1126 C2069.3,1125.6 2070.9,1124.2 2071.8,1122.3 C2072.7,1120.4 2075.9,1111.5 2077,1109.4 C2078.1,1107.3 2079.8,1104.2 2080.9,1104.2 C2082,1104.2 2085.2,1107 2086.1,1109.4 C2087,1111.8 2088.2,1122.3 2088.7,1124.9 C2089.2,1127.5 2089.8,1131.2 2090,1132" stroke="#cc5b22" fill="#cc5b22"/>
<path d="M2075,1118 C2075.4,1117.1 2077.8,1111.2 2078.5,1110 C2079.2,1108.8 2080.4,1107.8 2081,1108 C2081.6,1108.2 2083.4,1110.6 2084,1112 C2084.6,1113.4 2085.8,1119.1 2086,1120" stroke="#edb120" fill="#edb120"/>
<path d="M2073,1124 C2073.5,1123.1 2076.1,1117.3 2077,1116 C2077.9,1114.7 2080.1,1112.9 2081,1113 C2081.9,1113.1 2084.3,1115.5 2085,1117 C2085.7,1118.5 2086.8,1125 2087,1126" stroke="#a2142f" fill="#a2142f"/>
<path d="M2072,1128 C2072.5,1127.3 2074.9,1122.9 2076,1122 C2077.1,1121.1 2079.8,1119.9 2081,1120 C2082.2,1120.1 2085.2,1121.8 2086,1123 C2086.8,1124.2 2087.8,1129.2 2088,1130" stroke="#0072bd" fill="#0072bd"/>
<path d="M2101,1160 C2101.4,1159.5 2103.3,1157.2 2104.3,1156.1 C2105.3,1155 2108.3,1151.7 2109.5,1150.9 C2110.7,1150.1 2113.5,1149 2114.7,1149.6 C2115.9,1150.2 2119,1154.4 2119.9,1156.1 C2120.8,1157.8 2122.2,1163 2122.5,1163.9" stroke="#a0a030" fill="#a0a030"/>
<path d="M2106,1164 C2106.6,1163.2 2109.8,1157.9 2111,1157 C2112.2,1156.1 2115,1155.2 2116,1156 C2117,1156.8 2118.8,1161.5 2119.9,1163.9 C2121,1166.3 2123.9,1173 2125.1,1176.9 C2126.3,1180.8 2129.4,1194.4 2130.3,1197.7 C2131.2,1201 2132.7,1204.1 2133,1205" stroke="#a2142f" fill="#a2142f"/>
<path d="M2107,1168 C2107.6,1167.3 2110.8,1162.5 2112,1162 C2113.2,1161.5 2115.8,1162.4 2117,1164 C2118.2,1165.6 2120.8,1172.7 2122,1176 C2123.2,1179.3 2126.4,1190.1 2127,1192" stroke="#7e2f8e" fill="#7e2f8e"/>
<path d="M2107,1172 C2107.6,1171.5 2110.9,1168 2112,1168 C2113.1,1168 2114.9,1170.1 2116,1172 C2117.1,1173.9 2119.9,1181.2 2121,1184 C2122.1,1186.8 2124.5,1194.6 2125,1196" stroke="#0072bd" fill="#0072bd"/>
<path d="M2109,1174 C2109.5,1174.2 2112.1,1174.8 2113,1176 C2113.9,1177.2 2116.5,1183.1 2117,1184" stroke="#4dbeee" fill="#4dbeee"/>
<path d="M2148,1244 C2148.3,1243.4 2150,1241.6 2151,1239.2 C2152,1236.8 2155,1226 2156.2,1223.6 C2157.4,1221.2 2160.2,1218.4 2161.4,1218.4 C2162.6,1218.4 2165.4,1220.9 2166.6,1223.6 C2167.8,1226.3 2170.9,1238.6 2171.8,1241.8 C2172.7,1245 2173.9,1249.2 2174.4,1250.9 C2174.9,1252.6 2175.8,1255.4 2176,1256" stroke="#a2142f" fill="#a2142f"/>
<path d="M2152,1244 C2152.5,1243.1 2154.9,1237.4 2156,1236 C2157.1,1234.6 2159.8,1232 2161,1232 C2162.2,1232 2164.9,1234.4 2166,1236 C2167.1,1237.6 2169.3,1244.1 2170,1246 C2170.7,1247.9 2171.8,1251.3 2172,1252" stroke="#0072bd" fill="#0072bd"/>
<path d="M2156,1242 C2156.6,1241.5 2159.9,1237.8 2161,1238 C2162.1,1238.2 2164.5,1243.3 2165,1244" stroke="#4dbeee" fill="#4dbeee"/>
<path d="M2193,1292 C2193.4,1291.5 2195.2,1289.4 2196.2,1287.7 C2197.2,1286 2200.2,1279 2201.4,1277.3 C2202.6,1275.6 2205.4,1273.2 2206.6,1273.4 C2207.8,1273.6 2210.7,1276.2 2211.8,1278.6 C2212.9,1281 2214.6,1290.1 2215.7,1294.2 C2216.8,1298.3 2219.8,1309.7 2220.9,1313.6 C2222,1317.5 2224.1,1325.3 2224.8,1327.9 C2225.5,1330.5 2226.7,1335.1 2227,1336" stroke="#a2142f"/>
<path d="M2201,1290 C2201.6,1289.3 2204.9,1284 2206,1284 C2207.1,1284 2209.1,1287.9 2210,1290 C2210.9,1292.1 2213.5,1300.6 2214,1302" stroke="#7e2f8e" fill="#7e2f8e"/>
<path d="M2202,1294 C2202.5,1293.4 2205.6,1288.7 2206.5,1289 C2207.4,1289.3 2209.6,1296.1 2210,1297" stroke="#4dbeee" fill="#4dbeee"/>
<path d="M2228,1352 C2228.2,1351.6 2229.2,1349.7 2230,1348.7 C2230.8,1347.7 2234,1343.8 2235.2,1343.5 C2236.4,1343.2 2239.3,1344.1 2240.4,1346.1 C2241.5,1348.1 2243.7,1358.7 2244.3,1360.4 C2244.9,1362.1 2244.8,1361.3 2245.6,1360.4 C2246.4,1359.5 2249.6,1353.8 2250.8,1352.6 C2252,1351.4 2254.8,1349.7 2256,1350 C2257.2,1350.3 2260,1353.2 2261.2,1355.2 C2262.4,1357.2 2265,1363.7 2266.4,1366.9 C2267.8,1370.1 2271.7,1379.5 2272.9,1382.5 C2274.1,1385.5 2276,1390.9 2276.8,1392.9 C2277.6,1394.9 2277.6,1396.4 2279.4,1399.4 C2281.2,1402.4 2289.3,1414.7 2292.3,1418.8 C2295.3,1422.9 2303,1431.1 2305.3,1434.4 C2307.6,1437.7 2310,1443.9 2311.8,1447.4 C2313.6,1450.9 2319.2,1460.9 2320.9,1464.3 C2322.6,1467.7 2325.6,1475 2326.2,1476.4" stroke="#a2142f"/>
<path d="M2249,1364 C2249.6,1363.3 2252.8,1358.2 2254,1358 C2255.2,1357.8 2257.8,1360.1 2259,1362 C2260.2,1363.9 2262.9,1371.7 2264,1374 C2265.1,1376.3 2267.5,1381.1 2268,1382" stroke="#4dbeee" fill="#4dbeee"/>
<path d="M2250,1366 C2250.6,1365.5 2253.8,1361.8 2255,1362 C2256.2,1362.2 2258.8,1366.1 2260,1368 C2261.2,1369.9 2264.4,1376.8 2265,1378" stroke="#0072bd" fill="#0072bd"/>
<path d="M2232,1352 C2232.5,1351.5 2235.1,1347.8 2236,1348 C2236.9,1348.2 2239.5,1353.3 2240,1354" stroke="#7e2f8e" fill="#7e2f8e"/>
<path d="M2283,1398 C2283.8,1399.4 2288.2,1407.2 2290,1410 C2291.8,1412.8 2297.1,1420.6 2298,1422" stroke="#edb120" fill="#edb120"/>
<path d="M2313.2,1446.5 C2314,1448.3 2318.5,1458.5 2320,1462 C2321.5,1465.5 2324.8,1473.1 2326.2,1476.4 C2327.6,1479.7 2331.3,1488.4 2332,1490" stroke="#a2142f" fill="#a2142f"/>
<path d="M2339,1514 C2339.3,1513.4 2341,1510.2 2341.8,1508.8 C2342.6,1507.4 2344.5,1503.4 2345.7,1502.3 C2346.9,1501.2 2350.5,1499.5 2352.2,1499.7 C2353.9,1499.9 2358.3,1502.1 2360,1503.6 C2361.7,1505.1 2365,1509.8 2366.5,1512.7 C2368,1515.6 2371.3,1524.7 2373,1528.3 C2374.7,1531.9 2379,1540.6 2380.8,1543.9 C2382.6,1547.2 2386.8,1554.2 2388.6,1556.9 C2390.4,1559.6 2394.7,1564.9 2396.4,1567.3 C2398.1,1569.7 2401.7,1575.1 2402.9,1577.7 C2404.1,1580.3 2406.1,1586.8 2406.8,1589.4 C2407.5,1592 2408.7,1598.8 2409,1600" stroke="#edb120"/>
<path d="M2342,1514 C2342.3,1513.7 2343.2,1511.2 2344.4,1511.4 C2345.6,1511.6 2350.4,1513.8 2352.2,1515.3 C2354,1516.8 2358.2,1522.9 2360,1524.4 C2361.8,1525.9 2366.1,1526.3 2367.8,1528.3 C2369.5,1530.3 2372.8,1538 2374.3,1541.3 C2375.8,1544.6 2378.8,1553.6 2380.8,1556.9 C2382.8,1560.2 2389.2,1566.9 2391.2,1569.9 C2393.2,1572.9 2396.4,1580.1 2397.7,1582.9 C2399,1585.7 2401.5,1592.7 2402,1594" stroke="#a2142f"/>
<path d="M2345,1518 C2345.6,1518.3 2348.9,1519.8 2350,1521 C2351.1,1522.2 2354.2,1527.4 2354.8,1528.3" stroke="#7e2f8e" fill="#7e2f8e"/>
<path d="M2347,1520.5 C2347.6,1520.9 2350.9,1522.9 2352,1524 C2353.1,1525.1 2355.5,1529.3 2356,1530" stroke="#0072bd" fill="#0072bd"/>
<path d="M2386,1576 C2386.3,1576.2 2387.5,1576.4 2388.6,1577.7 C2389.7,1579 2393.5,1584.9 2395,1587 C2396.5,1589.1 2400.4,1593.8 2401.6,1595.8 C2402.8,1597.8 2404.6,1603 2405,1604" stroke="#0072bd" fill="#0072bd"/>
<path d="M2384,1572 C2384.7,1572.9 2388.6,1577.9 2390,1580 C2391.4,1582.1 2395.3,1588.8 2396,1590" stroke="#7e2f8e" fill="#7e2f8e"/>
<path d="M1404.6,233.3 C1405.4,234 1409,236.5 1410.6,238.1 C1412.2,239.7 1414.9,242.9 1416.5,245.2 C1418.1,247.6 1420.9,253.4 1422.5,255.5 C1424.1,257.6 1427,259.5 1428.6,261.1 C1430.2,262.8 1432.9,265.2 1434.5,267.8 C1436.1,270.4 1438.9,277.9 1440.5,280.8 C1442.1,283.7 1444.9,287.2 1446.5,289.4 C1448.1,291.6 1450.9,295.4 1452.5,297.5 C1454.1,299.6 1456.9,303.2 1458.5,305.3 C1460.1,307.4 1462.9,310.9 1464.5,313.1 C1466.1,315.3 1469.7,320.6 1470.5,321.8" stroke="#6b8a2c"/>
<path d="M1473.8,333.5 C1474.6,335.9 1478.2,347.7 1479.8,351.9 C1481.4,356.2 1484.2,362.1 1485.8,365.5 C1487.4,369 1490.2,374.6 1491.8,377.9 C1493.4,381.1 1496.2,386.7 1497.8,389.9 C1499.4,393.1 1502.2,398.7 1503.8,401.9 C1505.4,405.1 1508.2,410.9 1509.9,413.9 C1511.5,416.9 1514.3,421.9 1515.9,424.4 C1517.5,426.9 1520.3,430.7 1521.9,432.9 C1523.5,435.2 1526.3,438.7 1527.9,441.3 C1529.5,443.9 1532.2,449.6 1533.8,452.7 C1535.4,455.8 1538.3,461.6 1539.9,464.4 C1541.5,467.2 1544.3,471.1 1545.9,473.5 C1547.5,476 1550.4,480.7 1552,482.7 C1553.6,484.8 1556.5,487.3 1558.1,488.9 C1559.7,490.5 1562.5,493.2 1564.1,494.9 C1565.7,496.6 1568.4,499.5 1570,501.4 C1571.6,503.2 1574.3,506.4 1575.9,508.7 C1577.5,511.1 1580.2,514.6 1581.8,519 C1583.4,523.3 1586.2,537.1 1587.8,541.6 C1589.4,546.1 1592.3,549.8 1593.9,552.5 C1595.5,555.2 1598.3,559.4 1599.9,561.6 C1601.5,563.8 1604.3,566.6 1605.9,569.1 C1607.5,571.6 1610.2,576.8 1611.8,580.4 C1613.4,583.9 1617,593.4 1617.8,595.4" stroke="#7a7a2a"/>
<path d="M1690.5,695.2 C1691.3,696.8 1694.9,704.1 1696.5,707 C1698.1,709.8 1700.9,714.3 1702.5,716.6 C1704.1,718.9 1706.9,722 1708.5,723.9 C1710.1,725.9 1712.9,729.4 1714.5,731.4 C1716.1,733.4 1719.7,737.9 1720.5,738.9" stroke="#77ac30"/>
<path d="M2275.4,1394 C2276.2,1395 2279.8,1399.5 2281.4,1401.5 C2283,1403.6 2285.8,1407.2 2287.4,1409.4 C2288.9,1411.6 2291.7,1415.5 2293.3,1418 C2294.9,1420.4 2297.7,1424.9 2299.3,1427.7 C2300.9,1430.5 2303.7,1435.7 2305.3,1438.8 C2306.9,1441.8 2309.7,1447.7 2311.3,1450.8 C2312.9,1453.9 2315.7,1459.2 2317.3,1461.9 C2318.9,1464.6 2321.7,1467.8 2323.3,1471.2 C2324.9,1474.6 2328.5,1485.3 2329.2,1487.4" stroke="#a2142f"/>
</g>
<path d="M300.4,1287.8 C301,1282.4 303,1266.1 304.3,1255.3 C305.6,1244.5 306.7,1230.5 308.2,1222.9 C309.7,1215.3 311.2,1215.3 313.4,1209.9 C315.6,1204.5 319.2,1195.8 321.2,1190.4 C323.1,1185 323.6,1181.1 325.1,1177.4 C326.6,1173.7 327.5,1172 330.3,1168.3 C333.1,1164.6 339.1,1159.6 341.9,1155.3 C344.7,1151 345.8,1148.3 347.1,1142.3 C348.4,1136.2 348.6,1126.6 349.7,1119 C350.8,1111.4 351.4,1102.3 353.6,1096.9 C355.8,1091.5 360.3,1089.3 362.7,1086.5 C365.1,1083.7 366.7,1081.4 367.9,1080 C369.1,1078.6 367.5,1080 370,1078.1 C372.5,1076.1 380.2,1073.2 383,1068.3 C385.8,1063.4 385.4,1056.4 386.9,1048.8 C388.4,1041.2 390.8,1030.5 392.1,1022.9 C393.4,1015.3 393.8,1008.8 394.7,1003.4 C395.6,998 395.8,994.3 397.3,990.4 C398.8,986.5 401.2,982.8 403.8,980 C406.4,977.2 409.2,975.2 412.9,973.5 C416.6,971.8 422.6,971.1 425.8,969.6 C429,968.1 429.5,965.7 432.3,964.4 C435.1,963.1 439.7,963.8 442.7,961.8 C445.7,959.8 447.9,957.7 450.5,952.7 C453.1,947.7 455.9,937.5 458.3,931.9 C460.7,926.3 462.4,922.7 464.8,919 C467.2,915.3 470.7,914.2 472.6,909.9 C474.6,905.6 475.4,898 476.5,893 C477.6,888 478.5,884 479.1,880 C479.8,876 479.1,875 480.4,868.8 C481.7,862.6 484.7,847.9 486.9,842.9 C489.1,837.9 489.7,840.3 493.4,839 C497.1,837.7 504.7,837.7 509,835.1 C513.3,832.5 515.1,826 519.4,823.4 C523.7,820.8 529.1,820.6 534.9,819.5 C540.7,818.4 549.6,819.5 554.4,816.9 C559.2,814.3 561.1,809.3 563.5,803.9 C565.9,798.5 567,790.9 568.7,784.4 C570.4,777.9 572,769.9 573.9,764.9 C575.8,759.9 577.1,757.1 580.4,754.5 C583.6,751.9 589.1,751.3 593.4,749.4 C597.7,747.5 602.1,746.1 606.4,742.9 C610.7,739.6 615.1,734.4 619.4,729.9 C623.7,725.4 626.9,718.4 632.3,715.6 C637.7,712.8 644.2,713.6 651.8,713 C659.4,712.4 669.1,710.6 677.8,711.7 C686.5,712.8 696.2,717.1 703.8,719.5 C711.4,721.9 718.9,728.9 723.2,726 C727.5,723.1 727.5,709.9 729.4,702.3 C731.3,694.7 733,685.3 734.5,680.3 C736,675.3 735.6,674.2 738.4,672.5 C741.2,670.8 746,670.3 751.4,669.9 C756.8,669.5 765.5,671 770.9,669.9 C776.3,668.8 780,667.1 783.9,663.4 C787.8,659.7 791,653.2 794.3,647.8 C797.5,642.4 800.4,637 803.4,630.9 C806.4,624.8 809.7,617.9 812.5,611.4 C815.3,604.9 818.1,598.4 820.3,591.9 C822.5,585.4 822.9,577.9 825.5,572.5 C828.1,567.1 833.6,563.8 835.8,559.5 C837.9,555.2 835.1,548.5 838.4,546.5 C841.6,544.5 851,548.9 855.3,547.8 C859.6,546.7 862.5,545.4 864.4,540 C866.3,534.6 865.1,520.7 866.5,515.3 C867.9,509.9 868.7,508.6 873,507.5 C877.3,506.4 887.5,507.5 892.5,508.8 C897.5,510.1 899.7,515.3 902.9,515.3 C906.1,515.3 909.3,512.5 911.9,508.8 C914.5,505.1 916.2,497.5 918.4,493.2 C920.6,488.9 921.6,484.8 924.9,482.9 C928.1,481 933.6,482.2 937.9,481.6 C942.2,481 947.4,480.9 950.9,479 C954.4,477.1 956.5,475.8 958.7,469.9 C960.9,464 962.4,450 963.9,443.9 C965.4,437.8 965.6,436.8 967.8,433.5 C970,430.2 974.3,427.9 976.9,424.4 C979.5,420.9 981.2,417 983.4,412.7 C985.6,408.4 987.7,404 989.9,398.4 C992.1,392.8 994.2,385.5 996.4,379 C998.6,372.5 1000.9,366 1002.9,359.5 C1004.9,353 1006.9,344.1 1008.1,340 C1009.3,335.9 1008.1,337.4 1009.9,334.8 C1011.7,332.2 1014.9,328.7 1019,324.4 C1023.1,320.1 1030.6,315.7 1034.5,308.8 C1038.4,301.9 1039.7,290.5 1042.3,282.9 C1044.9,275.3 1047.9,269.2 1050.1,263.4 C1052.3,257.5 1051.8,251.1 1055.3,247.8 C1058.8,244.6 1066.1,245.4 1070.9,243.9 C1075.7,242.4 1080.4,241.9 1083.9,238.7 C1087.4,235.4 1088.5,228.3 1091.7,224.4 C1095,220.5 1099.3,217.2 1103.4,215.3 C1107.5,213.4 1113.2,215.1 1116.4,212.7 C1119.7,210.3 1119.7,203.8 1122.9,201 C1126.1,198.2 1129.3,196.7 1135.8,195.8 C1142.3,194.9 1153.1,195.6 1161.8,195.8 C1170.5,196 1179.1,196.2 1187.8,197.1 C1196.5,198 1207.3,199.3 1213.8,201 C1220.3,202.7 1222.5,205.6 1226.8,207.5 C1231.1,209.4 1234.2,213.1 1239.7,212.7 C1245.2,212.3 1256.2,209.6 1260,204.9 C1263.8,200.2 1260.8,190.6 1262.3,184.4 C1263.8,178.2 1265.8,170.8 1268.8,167.5 C1271.8,164.2 1276.8,164 1280.5,164.9 C1284.2,165.8 1286.6,170.8 1290.9,172.7 C1295.2,174.5 1300,175.3 1306.5,176 C1313,176.7 1322.8,177 1329.9,176.9 C1337.1,176.8 1343.4,175.1 1349.4,175.3 C1355.5,175.5 1361.7,176.6 1366.2,177.9 C1370.7,179.2 1373.6,180.5 1376.6,183.1 C1379.6,185.7 1381.8,188.9 1384.4,193.5 C1387,198.1 1389.4,204.3 1392.2,210.4 C1395,216.5 1397.6,224.9 1401.3,229.9 C1405,234.9 1410.6,236 1414.3,240.3 C1418,244.6 1420.2,251.7 1423.4,255.8 C1426.7,259.9 1430.8,260.6 1433.8,264.9 C1436.8,269.2 1438.4,276.4 1441.6,281.8 C1444.8,287.2 1449.1,292 1453.2,297.4 C1457.3,302.8 1463,309.9 1466.2,314.3 C1469.5,318.7 1470.8,319 1472.7,324 C1474.7,329 1475.3,337.2 1477.9,344.5 C1480.5,351.8 1484.4,359.7 1488.3,367.9 C1492.2,376.1 1497,385.2 1501.3,393.9 C1505.6,402.6 1509.5,411.9 1514.3,419.9 C1519.1,427.9 1525.6,434.8 1529.9,441.9 C1534.2,449 1536.4,456 1540.3,462.7 C1544.2,469.4 1548.5,476.3 1553.2,482.2 C1558,488.1 1564,492.5 1568.8,497.8 C1573.6,503.1 1578.4,506.6 1581.8,514 C1585.2,521.4 1586.5,534.6 1589.2,541.9 C1592,549.1 1595,552.7 1598.3,557.5 C1601.5,562.3 1605.7,565.5 1608.7,570.5 C1611.7,575.5 1614.1,581.3 1616.5,587.4 C1618.9,593.5 1620.8,601 1623,606.9 C1625.2,612.8 1627.1,617.7 1629.5,622.5 C1631.9,627.3 1633.8,631.2 1637.3,635.5 C1640.8,639.8 1646.6,644.7 1650.3,648.4 C1654,652.1 1656.2,654.2 1659.4,657.5 C1662.6,660.8 1666,664.4 1669.7,667.9 C1673.4,671.4 1678.4,674.4 1681.4,678.3 C1684.4,682.2 1685.7,687 1687.9,691.3 C1690.1,695.6 1692.5,700.5 1694.4,704.3 C1696.4,708.1 1697,710.3 1699.6,714 C1702.1,717.7 1706.3,722.2 1709.7,726.4 C1713.1,730.6 1717.5,734.2 1720.1,739.4 C1722.7,744.6 1723.6,751 1725.3,757.5 C1727,764 1728.3,772.7 1730.5,778.3 C1732.7,783.9 1735.5,787.6 1738.3,791.3 C1741.1,795 1744.8,796.7 1747.4,800.4 C1750,804.1 1752,808.4 1753.9,813.4 C1755.9,818.4 1757.4,824.9 1759.1,830.3 C1760.8,835.7 1762.3,841 1764.3,845.8 C1766.2,850.5 1768.2,854.9 1770.8,858.8 C1773.4,862.7 1777.1,865.5 1779.9,869.2 C1782.7,872.9 1784.9,877 1787.7,880.9 C1790.5,884.8 1793.8,888.9 1796.8,892.6 C1799.8,896.3 1802.6,899.4 1805.8,903 C1809,906.6 1814,911.5 1816.2,914 C1818.4,916.5 1816.4,914.7 1819,917.7 C1821.6,920.7 1826.5,928.7 1831.9,931.9 C1837.3,935.1 1844.9,934.9 1851.4,937.1 C1857.9,939.3 1865.1,942.7 1870.9,944.9 C1876.8,947.1 1882.2,947.5 1886.5,950.1 C1890.8,952.7 1894.1,957 1896.9,960.5 C1899.7,964 1900.2,968.7 1903.4,970.9 C1906.7,973.1 1912.7,972.4 1916.4,973.5 C1920.1,974.6 1922.7,974.6 1925.5,977.4 C1928.3,980.2 1930.4,986.1 1933.2,990.4 C1936,994.7 1939.7,1000.1 1942.3,1003.4 C1944.9,1006.6 1946.6,1010.5 1948.8,1009.9 C1951,1009.2 1953.1,1002.8 1955.3,999.5 C1957.5,996.2 1958.5,991.9 1961.8,990.4 C1965,988.9 1971.3,989.8 1974.8,990.4 C1978.3,991 1980,991 1982.6,994.3 C1985.2,997.5 1987.8,1003.4 1990.4,1009.9 C1993,1016.4 1995.6,1026.7 1998.2,1033.2 C2000.8,1039.7 2003.4,1044.5 2006,1048.8 C2008.6,1053.1 2011.4,1058.1 2013.8,1059.2 C2016.2,1060.3 2017.1,1056 2020.3,1055.3 C2023.5,1054.6 2030,1054.2 2033.2,1055.3 C2036.4,1056.4 2037.3,1058.5 2039.7,1061.8 C2042.1,1065 2044.9,1070 2047.5,1074.8 C2050.1,1079.6 2053.2,1086.1 2055.3,1090.4 C2057.4,1094.7 2058.8,1098.3 2060,1100.8 C2061.2,1103.3 2060.9,1102.1 2062.7,1105.5 C2064.4,1108.9 2067.5,1116.9 2070.5,1121 C2073.5,1125.1 2077.4,1128.1 2080.9,1130.1 C2084.4,1132 2088.5,1130.5 2091.3,1132.7 C2094.1,1134.9 2095.9,1138.8 2097.8,1143.1 C2099.8,1147.4 2101.5,1153.9 2103,1158.7 C2104.5,1163.5 2105.2,1167.6 2106.9,1171.7 C2108.6,1175.8 2111.2,1179.7 2113.4,1183.4 C2115.6,1187.1 2117.1,1191 2119.9,1193.8 C2122.7,1196.6 2127.5,1197.7 2130.3,1200.3 C2133.1,1202.9 2134.7,1206.2 2136.8,1209.4 C2139,1212.6 2141.3,1216 2143.2,1219.7 C2145.1,1223.4 2146.7,1227.3 2148.4,1231.4 C2150.1,1235.5 2151.2,1241.2 2153.6,1244.4 C2156,1247.7 2159.7,1249.6 2162.7,1250.9 C2165.7,1252.2 2169.2,1250.7 2171.8,1252.2 C2174.4,1253.7 2176.1,1257 2178.3,1260 C2180.5,1263 2182.6,1266.4 2184.8,1270.4 C2187,1274.4 2190.1,1281.8 2191.3,1284 C2192.6,1286.2 2190.8,1282.1 2192.3,1283.8 C2193.8,1285.5 2197.5,1290.3 2200.1,1294.2 C2202.7,1298.1 2204.9,1303.6 2207.9,1307.1 C2210.9,1310.5 2215.7,1311.4 2218.3,1314.9 C2220.9,1318.4 2221.8,1323.1 2223.5,1327.9 C2225.2,1332.7 2227,1338.3 2228.7,1343.5 C2230.4,1348.7 2231.3,1355.2 2233.9,1359.1 C2236.5,1363 2241.1,1364.3 2244.3,1366.9 C2247.6,1369.5 2249.7,1371.5 2253.4,1374.7 C2257.1,1378 2262.7,1383.4 2266.4,1386.4 C2270.1,1389.4 2272.3,1389.7 2275.5,1392.9 C2278.7,1396.1 2282.6,1401.5 2285.8,1405.8 C2289,1410.1 2292.1,1414.5 2294.9,1418.8 C2297.7,1423.1 2300.3,1427.5 2302.7,1431.8 C2305.1,1436.1 2307,1440.5 2309.2,1444.8 C2311.4,1449.1 2313.5,1453.9 2315.7,1457.8 C2317.9,1461.7 2320.5,1465.5 2322.2,1468.2 C2323.9,1470.9 2324.6,1470 2326.1,1474 C2327.6,1478 2328.8,1486.1 2331.4,1491.9 C2334,1497.7 2337.9,1502.3 2341.8,1508.8 C2345.7,1515.3 2350,1526.8 2354.8,1530.9 C2359.6,1535 2366.5,1530.2 2370.4,1533.5 C2374.3,1536.8 2375.6,1545.4 2378.2,1550.4 C2380.8,1555.4 2383.4,1559.1 2386,1563.4 C2388.6,1567.7 2391.2,1571.4 2393.8,1576.4 C2396.4,1581.4 2399.4,1588 2401.6,1593.2 C2403.8,1598.4 2404.9,1602.7 2406.8,1607.5 C2408.7,1612.3 2411,1616.8 2413.2,1621.8 C2415.3,1626.8 2418.6,1634.8 2419.7,1637.4 L2393.8,1654.3 C2392.3,1651.7 2387.1,1643.5 2384.7,1638.7 C2382.3,1633.9 2381.9,1629.2 2379.5,1625.7 C2377.1,1622.2 2373.2,1621.2 2370.4,1617.9 C2367.6,1614.7 2365,1611 2362.6,1606.2 C2360.2,1601.5 2358.5,1594.8 2356.1,1589.4 C2353.7,1584 2351.3,1577 2348.3,1573.8 C2345.3,1570.5 2341.4,1572.1 2337.9,1569.9 C2334.4,1567.7 2330.3,1564.7 2327.5,1560.8 C2324.7,1556.9 2322.9,1551.5 2321,1546.5 C2319.1,1541.5 2318.2,1535.7 2315.8,1530.9 C2313.4,1526.1 2309.2,1523.5 2306.8,1517.9 C2304.4,1512.3 2304,1502.5 2301.6,1497.1 C2299.2,1491.7 2295.1,1489.3 2292.5,1485.5 C2289.9,1481.7 2288,1478.6 2285.8,1474 C2283.6,1469.4 2281.6,1462.5 2279.4,1457.8 C2277.2,1453.1 2275.3,1449.3 2272.9,1446.1 C2270.5,1442.8 2267.7,1441.3 2265.1,1438.3 C2262.5,1435.3 2259.9,1432.2 2257.3,1427.9 C2254.7,1423.6 2252.5,1416.4 2249.5,1412.3 C2246.5,1408.2 2242.6,1405.8 2239.1,1403.2 C2235.6,1400.6 2231.7,1399.8 2228.7,1396.8 C2225.7,1393.8 2223.9,1388.3 2220.9,1385.1 C2217.9,1381.8 2213.5,1380.3 2210.5,1377.3 C2207.5,1374.3 2204.9,1371.7 2202.7,1366.9 C2200.5,1362.1 2199.2,1354.3 2197.5,1348.7 C2195.8,1343.1 2194.9,1337.4 2192.3,1333.1 C2189.7,1328.8 2185.4,1326.4 2181.9,1322.7 C2178.4,1319 2174.6,1314.9 2171.6,1311 C2168.6,1307.1 2166.4,1303.7 2163.8,1299.4 C2161.2,1295.1 2159,1287.7 2156,1285.1 C2153,1282.5 2149,1285.2 2145.8,1284 C2142.6,1282.8 2139.4,1280.9 2136.8,1278.2 C2134.2,1275.5 2132.2,1271.7 2130.3,1267.8 C2128.4,1263.9 2126.8,1259.1 2125.1,1254.8 C2123.4,1250.5 2121.6,1246.1 2119.9,1241.8 C2118.2,1237.5 2116.9,1231.8 2114.7,1228.8 C2112.5,1225.8 2109.9,1226.2 2106.9,1223.6 C2103.9,1221 2099.8,1217.1 2096.5,1213.2 C2093.2,1209.3 2090.2,1204.2 2087.4,1200.3 C2084.6,1196.4 2081.6,1194.2 2079.6,1189.9 C2077.6,1185.6 2077.2,1179.1 2075.7,1174.3 C2074.2,1169.5 2073.3,1164.3 2070.5,1161.3 C2067.7,1158.3 2062.9,1158.3 2058.8,1156.1 C2054.7,1153.9 2049.5,1151.8 2045.8,1148.3 C2042.1,1144.8 2039.4,1140.3 2036.8,1135.3 C2034.2,1130.3 2032,1123.6 2030.3,1118.4 C2028.6,1113.2 2028.5,1107.4 2026.8,1104 C2025.1,1100.6 2023.5,1099.4 2020.3,1098.2 C2017,1097 2011.6,1098.2 2007.3,1096.9 C2003,1095.6 1998,1093.2 1994.3,1090.4 C1990.6,1087.6 1988.2,1084.1 1985.2,1080 C1982.2,1075.9 1978.5,1070.9 1976.1,1065.7 C1973.7,1060.5 1972.4,1053.1 1970.9,1048.8 C1969.4,1044.5 1969,1040.3 1967,1039.7 C1965,1039.1 1962.2,1043.6 1959.2,1044.9 C1956.2,1046.2 1952.7,1048.2 1948.8,1047.5 C1944.9,1046.8 1940.1,1043.6 1935.8,1041 C1931.5,1038.4 1926.1,1035.4 1922.9,1031.9 C1919.7,1028.5 1918.6,1022.2 1916.4,1020.3 C1914.2,1018.4 1912.7,1020.1 1909.9,1020.3 C1907.1,1020.5 1902.8,1022.9 1899.5,1021.6 C1896.2,1020.3 1893.4,1016.6 1890.4,1012.5 C1887.4,1008.4 1884.1,1000.6 1881.3,996.9 C1878.5,993.2 1877,991.7 1873.5,990.4 C1870,989.1 1864.8,990.6 1860.5,989.1 C1856.2,987.6 1851.6,983.9 1847.5,981.3 C1843.4,978.7 1839.5,976.5 1835.8,973.5 C1832.1,970.5 1830.5,967 1825.5,963.1 C1820.5,959.2 1811.4,954.2 1806,950.1 C1800.6,946 1797.3,942.1 1793,938.4 C1788.7,934.7 1783,932.2 1780,928.1 C1777,924 1777.3,917.8 1774.7,914 C1772.1,910.2 1767.3,909.2 1764.3,905.6 C1761.3,902 1759.5,896.5 1756.5,892.6 C1753.5,888.7 1748.9,886.8 1746.1,882.2 C1743.3,877.7 1741.8,871.4 1739.6,865.3 C1737.4,859.2 1735.3,852.3 1733.1,845.8 C1730.9,839.3 1729,831.8 1726.6,826.4 C1724.2,821 1722.3,818.2 1718.8,813.4 C1715.3,808.6 1709,803.2 1705.8,797.8 C1702.6,792.4 1701.6,787.4 1699.4,780.9 C1697.2,774.4 1696.2,764.6 1692.9,758.8 C1689.7,752.9 1683.8,751.8 1679.9,745.8 C1676,739.8 1672.1,727.8 1669.5,722.5 C1666.9,717.2 1666,717 1664.5,714 C1663,711 1662.5,707.6 1660.6,704.3 C1658.7,700.9 1655.7,697.1 1652.9,693.9 C1650.1,690.6 1647,687.4 1643.8,684.8 C1640.5,682.2 1637.3,680.2 1633.4,678.3 C1629.5,676.3 1623.9,675 1620.4,673.1 C1616.9,671.2 1614.8,670.1 1612.6,666.6 C1610.4,663.1 1609.4,657.9 1607.4,652.3 C1605.5,646.7 1603.1,638.7 1600.9,632.9 C1598.7,627.1 1596.4,623.1 1594.4,617.3 C1592.5,611.4 1591.6,602.6 1589.2,597.8 C1586.8,593 1583.1,592.2 1580.1,588.7 C1577.1,585.2 1574,582.2 1571,577 C1568,571.8 1564.9,563.8 1561.9,557.5 C1558.9,551.2 1556.6,544.1 1552.9,539.4 C1549.2,534.6 1543.3,533.2 1539.9,529 C1536.5,524.8 1535,519.6 1532.5,514 C1530,508.4 1527.7,501.6 1524.7,495.2 C1521.7,488.8 1517.8,482.2 1514.3,475.7 C1510.8,469.2 1508.2,461.8 1503.9,456.2 C1499.6,450.6 1492.2,446.9 1488.3,441.9 C1484.4,436.9 1484,432.2 1480.5,426.4 C1477,420.6 1470.8,413.2 1467.5,406.9 C1464.2,400.6 1464,395.2 1461,388.7 C1458,382.2 1452.4,375 1449.4,367.9 C1446.4,360.8 1446.4,351.2 1442.9,345.8 C1439.4,340.4 1431.2,339.1 1428.6,335.5 C1426,331.9 1428.6,327.5 1427.3,324 C1426,320.5 1423.2,318.1 1420.8,314.3 C1418.4,310.5 1415.2,305.6 1413,301.3 C1410.8,297 1410.4,291.6 1407.8,288.3 C1405.2,285.1 1400,285.5 1397.4,281.8 C1394.8,278.1 1394.8,270.1 1392.2,266.2 C1389.6,262.3 1385.3,262.3 1381.8,258.4 C1378.3,254.5 1374.4,248.7 1371.4,242.9 C1368.4,237.1 1365.8,228.4 1363.6,223.4 C1361.4,218.4 1360.6,214.9 1358.4,213 C1356.2,211.1 1353.2,211 1350.6,211.7 C1348,212.3 1346.4,216 1342.9,216.9 C1339.5,217.8 1334.2,217.3 1329.9,216.9 C1325.6,216.5 1321.2,214.7 1316.9,214.3 C1312.6,213.9 1308.7,215 1303.9,214.3 C1299.1,213.7 1291.5,210 1288.3,210.4 C1285,210.8 1286.1,213.2 1284.4,216.9 C1282.7,220.6 1280.5,228.2 1277.9,232.5 C1275.3,236.8 1271.8,238.8 1268.8,242.9 C1265.8,247 1262.7,253.5 1260,256.9 C1257.3,260.3 1256.1,261.9 1252.7,263.4 C1249.3,264.9 1244,266.6 1239.7,266 C1235.4,265.4 1230.7,262.1 1226.8,259.5 C1222.9,256.9 1219.7,253.4 1216.4,250.4 C1213.2,247.4 1211,243.2 1207.3,241.3 C1203.6,239.4 1198.6,238.9 1194.3,238.7 C1190,238.5 1186.3,240.7 1181.3,240 C1176.3,239.3 1169.8,234.8 1164.4,234.8 C1159,234.8 1152.5,238.5 1148.8,240 C1145.1,241.5 1144.5,241.1 1142.3,243.9 C1140.1,246.7 1138.4,253.4 1135.8,256.9 C1133.2,260.4 1130,263.4 1126.8,264.7 C1123.6,266 1120.1,265.3 1116.4,264.7 C1112.7,264.1 1108,259.9 1104.7,260.8 C1101.5,261.7 1099.7,267.7 1096.9,269.9 C1094.1,272.1 1090.8,270.6 1087.8,273.8 C1084.8,277.1 1081.5,285.7 1078.7,289.4 C1075.9,293.1 1073.3,292.6 1070.9,295.8 C1068.5,299 1066.1,303.4 1064.4,308.8 C1062.7,314.2 1061.7,323.1 1060.5,328.3 C1059.3,333.5 1059.4,336.5 1057.4,340 C1055.4,343.5 1051.3,347.4 1048.3,349.1 C1045.3,350.8 1041.6,348 1039.2,350.4 C1036.8,352.8 1035.7,358.6 1034,363.4 C1032.3,368.2 1030.5,373.2 1028.8,379 C1027.1,384.8 1025.3,391.9 1023.6,398.4 C1021.9,404.9 1020.8,412 1018.4,417.9 C1016,423.8 1012.4,428.1 1009.4,433.5 C1006.4,438.9 1004,446.5 1000.3,450.4 C996.6,454.3 989.9,452.6 987.3,456.9 C984.7,461.2 986,469.9 984.7,476.4 C983.4,482.9 981.9,490.8 979.5,495.8 C977.1,500.8 974.1,502.9 970.4,506.2 C966.7,509.4 961.7,512 957.4,515.3 C953.1,518.5 947.3,521.6 944.4,525.7 C941.5,529.8 941.4,535.5 939.7,540 C938.1,544.5 936.2,548.7 934.5,553 C932.8,557.3 931.8,562.3 929.4,566 C927,569.7 924,573.4 920.3,575.1 C916.6,576.8 911,577.3 907.3,576.4 C903.6,575.5 901,572.3 898.2,569.9 C895.4,567.5 893,562.3 890.4,562.1 C887.8,561.9 885.2,565.8 882.6,568.6 C880,571.4 877.6,575.1 874.8,579 C872,582.9 868.3,587.6 865.7,591.9 C863.1,596.2 862.5,600.6 859.2,604.9 C856,609.2 850.1,613.6 846.2,617.9 C842.3,622.2 838.2,626.6 835.8,630.9 C833.4,635.2 833.4,638.5 831.9,643.9 C830.4,649.3 829.4,657.3 826.8,663.4 C824.2,669.5 820.3,674.9 816.4,680.3 C812.5,685.7 807.1,691.5 803.4,695.8 C799.7,700.1 797.5,703 794.3,706.2 C791,709.5 787.4,712.7 783.9,715.3 C780.4,717.9 776.8,720.7 773.5,721.8 C770.2,722.9 767.9,722.2 764.4,721.8 C760.9,721.4 756.4,717 752.7,719.2 C749,721.4 745.8,729.6 742.3,734.8 C738.8,740 735.1,745.5 731.9,750.4 C728.7,755.3 725.4,761.1 722.9,764 C720.4,766.9 720,765.8 716.8,767.5 C713.6,769.2 708.1,773.6 703.8,774 C699.5,774.4 696.2,772.3 690.8,770.1 C685.4,767.9 677.8,762.5 671.3,761 C664.8,759.5 657.9,760.8 651.8,761 C645.7,761.2 638.4,759.5 634.9,762.3 C631.4,765.1 632.5,772.7 631,777.9 C629.5,783.1 628.8,790 625.8,793.5 C622.8,797 617.6,797 612.9,798.7 C608.1,800.4 601,800.9 597.3,803.9 C593.6,806.9 593,811.5 590.8,816.9 C588.6,822.3 586.5,831.4 584.3,836.4 C582.1,841.4 580.6,844.6 577.8,846.8 C575,849 572.4,848.5 567.4,849.4 C562.4,850.2 553.1,850.2 547.9,851.9 C542.7,853.6 538.6,855 536.2,859.7 C533.8,864.4 534.5,875.5 533.6,880 C532.7,884.5 532.3,883.9 531,886.5 C529.7,889.1 528.2,893.4 525.8,895.6 C523.4,897.8 519.8,898.2 516.8,899.5 C513.8,900.8 510.1,900.6 507.7,903.4 C505.3,906.2 504.2,912.1 502.5,916.4 C500.8,920.7 499.2,925.1 497.3,929.4 C495.4,933.7 492.5,938.4 490.8,942.3 C489.1,946.2 488.6,949.7 486.9,952.7 C485.2,955.7 482.6,957 480.4,960.5 C478.2,964 475.8,969.6 473.9,973.5 C471.9,977.4 470.9,980.4 468.7,983.9 C466.5,987.4 463.5,991.5 460.9,994.3 C458.3,997.1 456.6,999.1 453.1,1000.8 C449.6,1002.5 444.4,1003.4 440.1,1004.7 C435.8,1006 429.9,1005.6 427.1,1008.6 C424.3,1011.6 424.1,1017.3 423.2,1022.9 C422.3,1028.5 423,1035.8 421.9,1042.3 C420.8,1048.8 418.6,1055.5 416.8,1061.8 C415,1068.1 412.9,1074.2 410.8,1080 C408.7,1085.8 406.5,1092.1 404.3,1096.9 C402.1,1101.7 400.4,1104.9 397.8,1108.6 C395.2,1112.3 391.1,1114.7 388.7,1119 C386.3,1123.3 385,1130.2 383.5,1134.5 C382,1138.8 380.9,1141 379.6,1144.9 C378.3,1148.8 377.2,1153.6 375.7,1157.9 C374.2,1162.2 373.3,1166.6 370.5,1170.9 C367.7,1175.2 361.8,1180 358.8,1183.9 C355.8,1187.8 353.8,1190 352.3,1194.3 C350.8,1198.6 351,1205.1 349.7,1209.9 C348.4,1214.7 346.2,1217.5 344.5,1222.9 C342.8,1228.3 341.1,1235.8 339.4,1242.3 C337.7,1248.8 335.5,1254.2 334.2,1261.8 C332.9,1269.4 332,1283.5 331.6,1287.8 Z" fill="#e2531a"/>
</g>
<g class="tick" text-anchor="middle">
<text x="315.8" y="1813">700</text>
<text x="695.7" y="1813">800</text>
<text x="1075.6" y="1813">900</text>
<text x="1455.5" y="1813">1000</text>
<text x="1835.4" y="1813">1100</text>
<text x="2215.3" y="1813">1200</text>
</g>
<g class="tick" text-anchor="end">
<text x="288.6" y="1745.8">1.4</text>
<text x="288.6" y="1583.6">1.6</text>
<text x="288.6" y="1421.5">1.8</text>
<text x="288.6" y="1259.3">2</text>
<text x="288.6" y="1097.2">2.2</text>
<text x="288.6" y="935.0">2.4</text>
<text x="288.6" y="772.9">2.6</text>
<text x="288.6" y="610.8">2.8</text>
<text x="288.6" y="448.6">3</text>
<text x="288.6" y="286.4">3.2</text>
<text x="288.6" y="124.3">3.4</text>
</g>
<text x="313.9" y="86.9" style="font-family:'DejaVu Sans Light','DejaVu Sans',sans-serif;font-weight:200;font-size:63px" fill="#262626">×</text>
<text class="tick" x="366" y="83.6">10</text>
<text class="tick" x="439.3" y="52.6" style="font-size:51px">5</text>
<text class="lab" x="1008.7" y="1930.6">Wavenumber/cm<tspan x="1573" y="1890.2" style="font-size:46px">−</tspan><tspan x="1597" y="1893" style="font-size:53.5px">1</tspan></text>
<text class="lab" transform="translate(92.6,1213.5) rotate(-90)">Intensity/arb.units</text>
</svg>
</body>
</html>
